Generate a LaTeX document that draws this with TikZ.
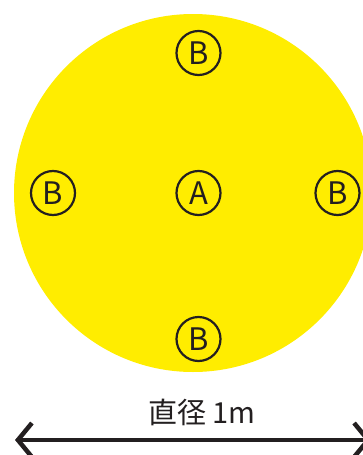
\documentclass[tikz,border=0pt]{standalone}
\usepackage{fontspec}
\setmainfont{Noto Sans CJK JP}
\usetikzlibrary{arrows.meta}
\definecolor{signyellow}{RGB}{255,237,0}
\definecolor{inkblack}{RGB}{35,31,32}
\begin{document}
\begin{tikzpicture}[x=1pt,y=-1pt,
  marker/.style={circle,draw=inkblack,line width=2.2pt,minimum size=44pt,inner sep=0pt,
    text=inkblack,font=\fontsize{31}{31}\selectfont},
  dimline/.style={draw=inkblack,line width=4.5pt,
    {Straight Barb[length=14pt,width=34pt,line width=4.5pt]}-{Straight Barb[length=14pt,width=34pt,line width=4.5pt]}}]
\useasboundingbox (0,0) rectangle (363,455);
\clip (0,0) rectangle (363,455);
\fill[signyellow] (193,193) circle[radius=179];
\node[marker] (top) at (198.5,53) {B};
\node[marker] (center) at (198.5,193) {A};
\node[marker] (left) at (53,193) {B};
\node[marker] (right) at (337.5,193) {B};
\node[marker] (bottom) at (198.5,339) {B};
\node[text=inkblack,font=\fontsize{29}{29}\selectfont] (label) at (202,412) {直径 1m};
\coordinate (lend) at (15,440);
\coordinate (rend) at (371,440);
\draw[dimline] (lend) -- (rend);
\end{tikzpicture}
\end{document}
